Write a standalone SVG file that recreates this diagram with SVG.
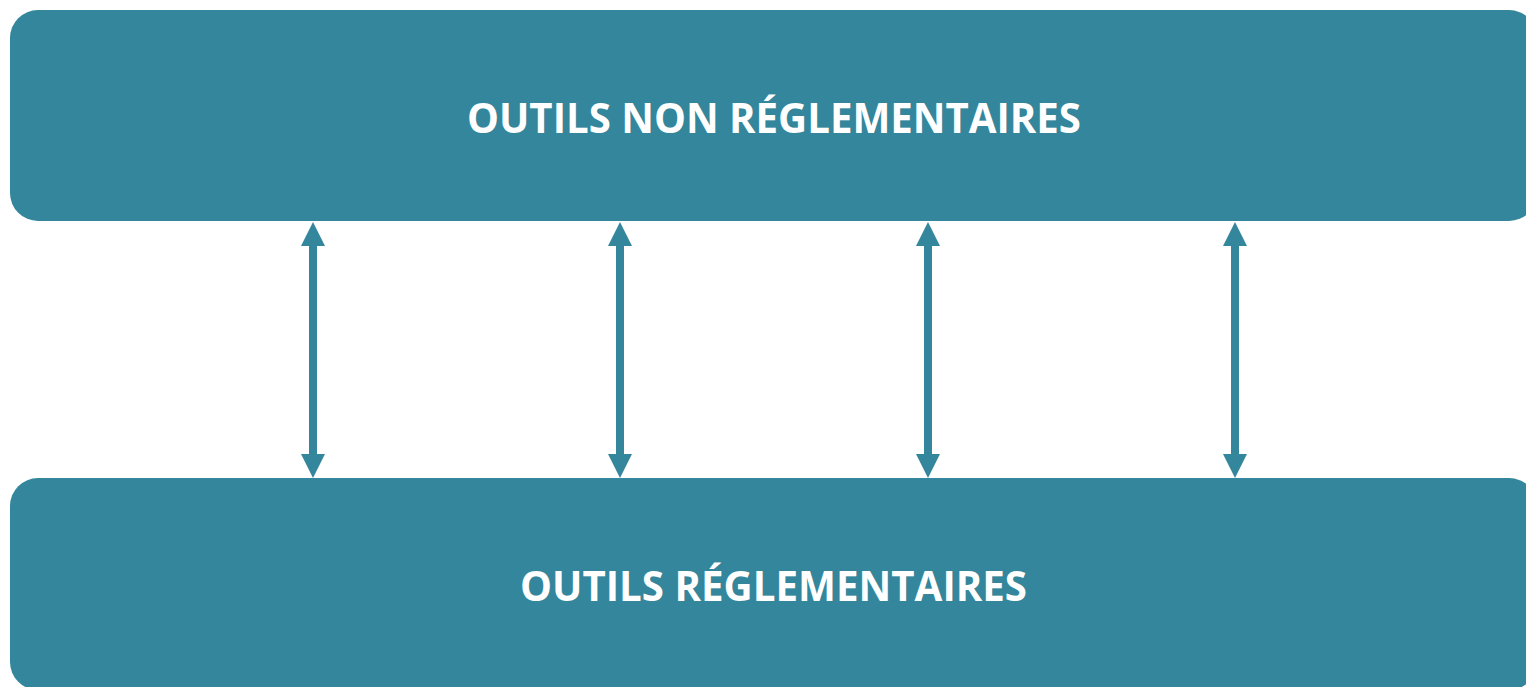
<svg xmlns="http://www.w3.org/2000/svg" width="1526" height="687" viewBox="0 0 1526 687">
<style>
.box{fill:#33869B;}
.lbl{fill:#ffffff;font-family:"Open Sans","Liberation Sans",sans-serif;font-weight:bold;font-size:41px;text-anchor:middle;}
.shaft{stroke:#33869B;stroke-width:8;fill:none;}
.head{fill:#33869B;}
</style>
<rect width="1526" height="687" fill="#ffffff"/>
<g id="node-top">
<rect class="box" x="10" y="10" width="1527" height="211" rx="28" ry="28"/>
<text class="lbl" x="774" y="133" textLength="614" lengthAdjust="spacingAndGlyphs">OUTILS NON RÉGLEMENTAIRES</text>
</g>
<g id="node-bottom">
<rect class="box" x="10" y="478" width="1527" height="212" rx="28" ry="28"/>
<text class="lbl" x="773.5" y="601" textLength="507" lengthAdjust="spacingAndGlyphs">OUTILS RÉGLEMENTAIRES</text>
</g>
<g id="connectors">
<g>
<line class="shaft" x1="313" y1="244" x2="313" y2="456"/>
<polygon class="head" points="313,222 301,246 325,246"/>
<polygon class="head" points="313,478 301,454 325,454"/>
</g>
<g>
<line class="shaft" x1="620" y1="244" x2="620" y2="456"/>
<polygon class="head" points="620,222 608,246 632,246"/>
<polygon class="head" points="620,478 608,454 632,454"/>
</g>
<g>
<line class="shaft" x1="928" y1="244" x2="928" y2="456"/>
<polygon class="head" points="928,222 916,246 940,246"/>
<polygon class="head" points="928,478 916,454 940,454"/>
</g>
<g>
<line class="shaft" x1="1235" y1="244" x2="1235" y2="456"/>
<polygon class="head" points="1235,222 1223,246 1247,246"/>
<polygon class="head" points="1235,478 1223,454 1247,454"/>
</g>
</g>
</svg>
